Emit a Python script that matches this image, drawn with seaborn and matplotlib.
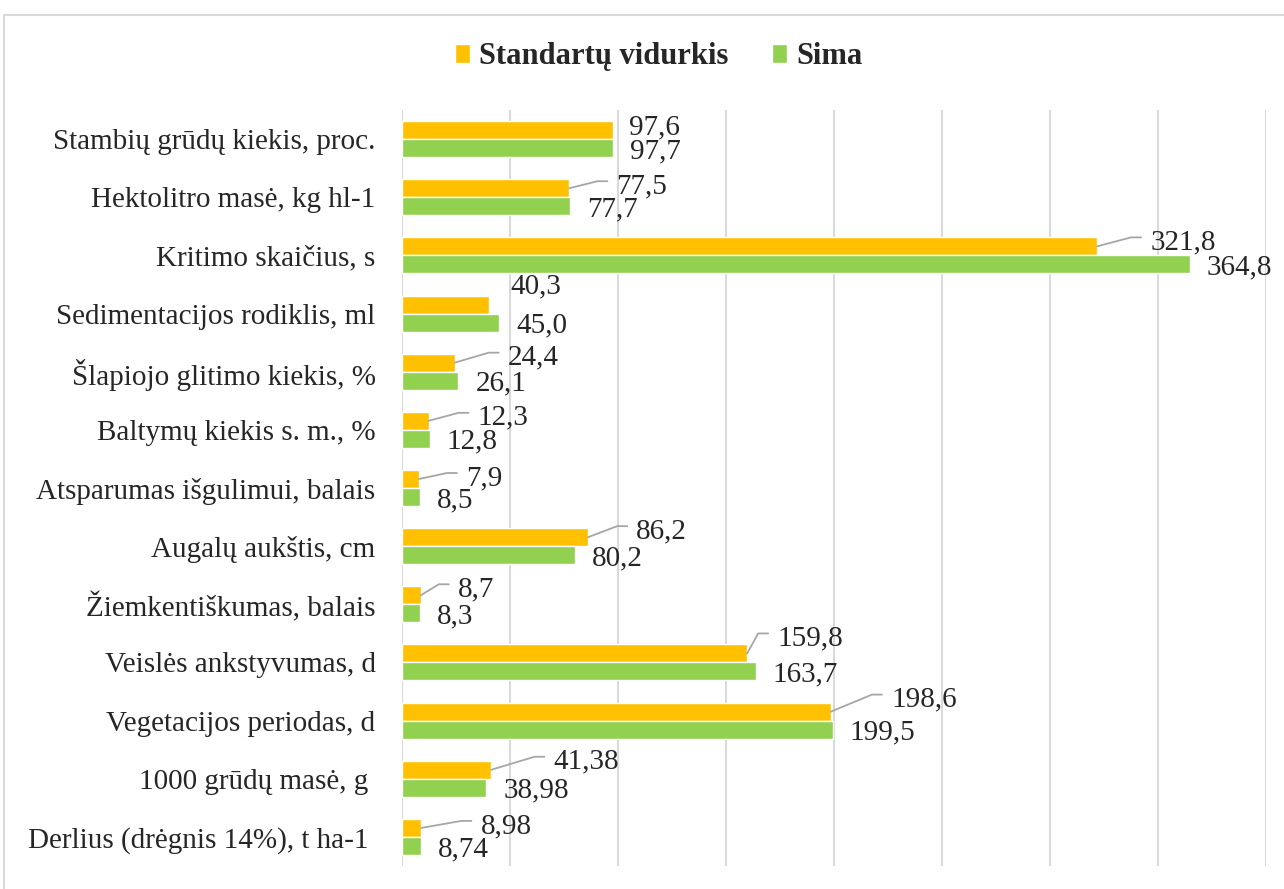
import matplotlib.pyplot as plt
import pandas as pd
import seaborn as sns
from matplotlib.lines import Line2D
from matplotlib.patches import Patch

# Data
categories = [
    "Stambių grūdų kiekis, proc.",
    "Hektolitro masė, kg hl-1",
    "Kritimo skaičius, s",
    "Sedimentacijos rodiklis, ml",
    "Šlapiojo glitimo kiekis, %",
    "Baltymų kiekis s. m., %",
    "Atsparumas išgulimui, balais",
    "Augalų aukštis, cm",
    "Žiemkentiškumas, balais",
    "Veislės ankstyvumas, d",
    "Vegetacijos periodas, d",
    "1000 grūdų masė, g ",
    "Derlius (drėgnis 14%), t ha-1 ",
]
standard_avg = [97.6, 77.5, 321.8, 40.3, 24.4, 12.3, 7.9, 86.2, 8.7, 159.8, 198.6, 41.38, 8.98]
sima = [97.7, 77.7, 364.8, 45.0, 26.1, 12.8, 8.5, 80.2, 8.3, 163.7, 199.5, 38.98, 8.74]
decimals = [1, 1, 1, 1, 1, 1, 1, 1, 1, 1, 1, 2, 2]
series_names = ["Standartų vidurkis", "Sima"]
colors = ["#FFC000", "#92D050"]

# label placement (pixels): dx right of bar end, dy = baseline below bar centre
orange_offsets = [(16, 4), (47, 5), (53, 3), (21, -11), (53, 2), (49, 4), (47, 6),
                  (48, 1), (37, 1), (30, -8), (60, -5), (62, -1), (59, 5)]
green_offset = (17, 10)

df = pd.DataFrame({
    "category": categories * 2,
    "series": [series_names[0]] * len(categories) + [series_names[1]] * len(categories),
    "value": standard_avg + sima,
})

sns.set_style("white")
plt.rcParams["font.family"] = ["Liberation Serif", "DejaVu Serif"]

fig, ax = plt.subplots(figsize=(12.84, 8.89), dpi=100)
fig.subplots_adjust(left=402 / 1284, right=1266 / 1284, top=1 - 110 / 889, bottom=1 - 866 / 889)

sns.barplot(data=df, y="category", x="value", hue="series", palette=colors,
            width=0.62, orient="h", saturation=1, legend=False,
            edgecolor="white", linewidth=1, ax=ax)

ax.set_xlim(0, 400)
ax.set_ylim(len(categories) - 0.5, -0.5)
ax.set_xticks(range(0, 401, 50))
ax.set_xticklabels([])
ax.xaxis.grid(True, color="#D9D9D9", linewidth=1.5)
ax.set_axisbelow(True)
for s in ax.spines.values():
    s.set_visible(False)
ax.set_xlabel("")
ax.set_ylabel("")
ax.tick_params(axis="y", length=0, pad=19, labelsize=21)
ax.tick_params(axis="x", length=0)

inv = ax.transData.inverted()
for k, (cont, vals) in enumerate(zip(ax.containers, [standard_avg, sima])):
    for i, (rect, v) in enumerate(zip(cont, vals)):
        w = rect.get_width()
        yc = rect.get_y() + rect.get_height() / 2
        dx, dy = orange_offsets[i] if k == 0 else green_offset
        label = f"{v:.{decimals[i]}f}".replace(".", ",")
        ax.annotate(label, xy=(w, yc), xytext=(dx, -dy), textcoords="offset pixels",
                    ha="left", va="baseline", fontsize=21, annotation_clip=False)
        if k == 0 and dx > 25:
            # leader line: bar end -> knee -> short horizontal segment
            px, py = ax.transData.transform((w, yc))
            ex, ey = px + dx - 9, py - dy + 12
            pts = [(px, py), (ex - 10, ey), (ex, ey)]
            xs, ys = zip(*[inv.transform(p) for p in pts])
            ax.plot(xs, ys, color="#A6A6A6", linewidth=1.3, clip_on=False)

handles = [Patch(facecolor=c, label=n) for c, n in zip(colors, series_names)]
fig.legend(handles=handles, loc="center", bbox_to_anchor=(0.513, 0.936), ncol=2,
           frameon=False, prop={"weight": "bold", "size": 22},
           handlelength=0.5, handleheight=0.55, handletextpad=0.3, columnspacing=1.4)

# chart area border (top and left edges visible)
fig.add_artist(Line2D([4 / 1284, 1], [1 - 15 / 889] * 2, transform=fig.transFigure,
                      color="#D9D9D9", linewidth=1.5))
fig.add_artist(Line2D([4 / 1284] * 2, [0, 1 - 15 / 889], transform=fig.transFigure,
                      color="#D9D9D9", linewidth=1.5))

fig.savefig("out.png", dpi=100)
